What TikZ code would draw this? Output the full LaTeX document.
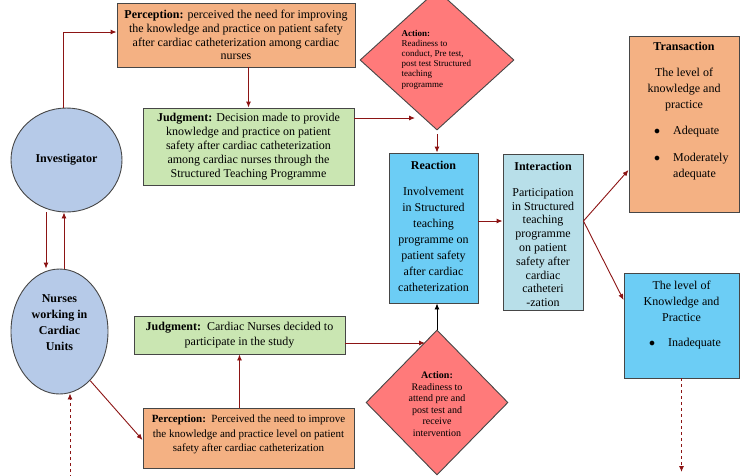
\documentclass[tikz,border=0pt]{standalone}
\usepackage{fontspec}
\setmainfont{Liberation Serif}
\usetikzlibrary{arrows.meta,shapes.geometric}
\definecolor{orangebox}{RGB}{244,177,131}
\definecolor{greenbox}{RGB}{202,230,178}
\definecolor{circblue}{RGB}{182,202,232}
\definecolor{diamred}{RGB}{255,122,122}
\definecolor{skyblue}{RGB}{108,205,245}
\definecolor{paleblue}{RGB}{184,223,233}
\definecolor{arrred}{RGB}{140,20,20}
\definecolor{bordergray}{RGB}{70,70,70}
\tikzset{
  box/.style={draw=bordergray, line width=0.9pt, rectangle, inner sep=0pt},
  oval/.style={draw=bordergray, line width=0.9pt, ellipse, inner sep=0pt, fill=circblue},
  diam/.style={draw=bordergray, line width=0.9pt, diamond, inner sep=0pt, fill=diamred},
  arr/.style={draw=arrred, line width=0.9pt, -{Latex[length=6pt,width=5pt]}},
  blackarr/.style={draw=black, line width=0.9pt, -{Latex[length=6pt,width=5pt]}},
  txt/.style={align=center, inner sep=0pt, font=\fontsize{12}{14}\selectfont},
  lbl/.style={inner sep=0pt, font=\fontsize{12}{16}\selectfont},
  bul/.style={inner sep=0pt, anchor=base, font=\fontsize{12}{16}\selectfont},
}
\begin{document}
\begin{tikzpicture}[x=1pt,y=-1pt]
\useasboundingbox (0,0) rectangle (754,475);
\clip (0,0) rectangle (754,475);

% ---------- shapes ----------
\node[box, fill=orangebox, minimum width=238pt, minimum height=64pt, txt,
      font=\fontsize{12}{13.7}\selectfont] (percTop) at (236,35)
  {\textbf{Perception:} perceived the need for improving\\
   the knowledge and practice on patient safety\\
   after cardiac catheterization among cardiac\\
   nurses};

\node[box, fill=greenbox, minimum width=211pt, minimum height=77pt, txt] (judgTop) at (248.5,146.5)
  {\textbf{Judgment:} Decision made to provide\\
   knowledge and practice on patient\\
   safety after cardiac catheterization\\
   among cardiac nurses through the\\
   Structured Teaching Programme};

\node[oval, minimum width=111pt, minimum height=104pt, font=\bfseries\fontsize{12}{14}\selectfont] (inv) at (66.5,160) {Investigator};

\node[oval, minimum width=97pt, minimum height=125pt] (nurses) at (59.5,331.5) {};
\node[lbl, align=center, font=\bfseries\fontsize{12}{16}\selectfont] (nursesLbl) at (59.5,323)
  {Nurses\\working in\\Cardiac\\Units};

\node[diam, minimum width=154pt, minimum height=140pt] (actTop) at (437,60) {};
\node[inner sep=0pt, align=left, anchor=west, font=\fontsize{9}{10.2}\selectfont] (actTopLbl) at (401.5,59.5)
  {\textbf{Action:}\\Readiness to\\conduct, Pre test,\\post test Structured\\teaching\\programme};

\node[box, fill=skyblue, minimum width=89pt, minimum height=150pt] (react) at (433.5,228) {};
\node[lbl, align=center] (reactLbl) at (433.5,226)
  {\textbf{Reaction}\\[10pt]Involvement\\in Structured\\teaching\\programme on\\patient safety\\after cardiac\\catheterization};

\node[box, fill=paleblue, minimum width=80pt, minimum height=156pt] (interact) at (543,232) {};
\node[lbl, align=center, font=\fontsize{12}{13.8}\selectfont] (interactLbl) at (543,234.5)
  {\textbf{Interaction}\\[12pt]Participation\\in Structured\\teaching\\programme\\on patient\\safety after\\cardiac\\catheteri\\-zation};

\node[box, fill=orangebox, minimum width=110pt, minimum height=176pt] (trans) at (684,124) {};
\node[lbl, align=center] (transLbl) at (684,77)
  {\textbf{Transaction}\\[10pt]The level of\\knowledge and\\practice};
\node[bul] (tb1) at (657,134.5) {$\bullet$};
\node[lbl, anchor=base west] (tt1) at (673,134.5) {Adequate};
\node[bul] (tb2) at (657,161.5) {$\bullet$};
\node[lbl, anchor=base west] (tt2) at (673,161.5) {Moderately};
\node[lbl, anchor=base west] (tt3) at (673,177.5) {adequate};

\node[box, fill=skyblue, minimum width=115pt, minimum height=105pt] (level) at (681.5,325.5) {};
\node[lbl, align=center] (levelLbl) at (681.5,301)
  {The level of\\Knowledge and\\Practice};
\node[bul] (lb1) at (652,346.5) {$\bullet$};
\node[lbl, anchor=base west] (lt1) at (668,346.5) {Inadequate};

\node[box, fill=greenbox, minimum width=211pt, minimum height=38pt, txt,
      font=\fontsize{12}{15}\selectfont] (judgBot) at (239.5,335)
  {\textbf{Judgment:}\ \ Cardiac Nurses decided to\\participate in the study};

\node[box, fill=orangebox, minimum width=211pt, minimum height=60pt] (percBot) at (248.5,438) {};
\node[txt, font=\fontsize{11}{14.5}\selectfont] (percBotLbl) at (248.5,434.5)
  {\textbf{Perception:}\ \ Perceived the need to improve\\
   the knowledge and practice level on patient\\
   safety after cardiac catheterization};

\node[diam, minimum width=142pt, minimum height=145pt] (actBot) at (437,402.5) {};
\node[inner sep=0pt, align=center, font=\fontsize{10}{11.6}\selectfont] (actBotLbl) at (437,404)
  {\textbf{Action:}\\Readiness to\\attend pre and\\post test and\\receive\\intervention};

% ---------- helper coordinates ----------
\coordinate (xL) at (46,0);
\coordinate (xR) at (64,0);
\coordinate (a1) at (415,118);
\coordinate (a2) at (425,343);
\coordinate (dstart) at (70,478);
\coordinate (lvlEnd) at (681.5,472);

% ---------- connectors ----------
\draw[arr] ([xshift=-3pt]inv.north) |- ([yshift=3pt]percTop.west);
\draw[arr] (percTop.south -| judgTop.north) -- (judgTop.north);
\draw[arr] (a1 -| judgTop.east) -- (a1);
\draw[arr] ([yshift=-4pt]actTop.south) -- (actTop.south |- react.north);
\draw[arr] ([yshift=7pt]react.east) -- ([yshift=7pt]react.east -| interact.west);
\draw[arr] ([yshift=11pt]interact.east) -- ([yshift=-46pt]trans.west);
\draw[arr] ([yshift=11pt]interact.east) -- ([yshift=25.5pt]level.west);
\draw[arr, dashed] (level.south -| lvlEnd) -- (lvlEnd);
\draw[arr] (inv.south -| xL) -- (nurses.north -| xL);
\draw[arr] (nurses.north -| xR) -- (inv.south -| xR);
\draw[arr, dashed] (dstart) -- ([yshift=1pt]dstart |- nurses.south);
\draw[arr] (nurses.-58) -- ([yshift=-2pt]percBot.west);
\draw[arr] (percBot.north -| judgBot.south) -- (judgBot.south);
\draw[arr] (a2 -| judgBot.east) -- (a2);
\draw[blackarr] (actBot.north) -- (actBot.north |- react.south);
\end{tikzpicture}
\end{document}
